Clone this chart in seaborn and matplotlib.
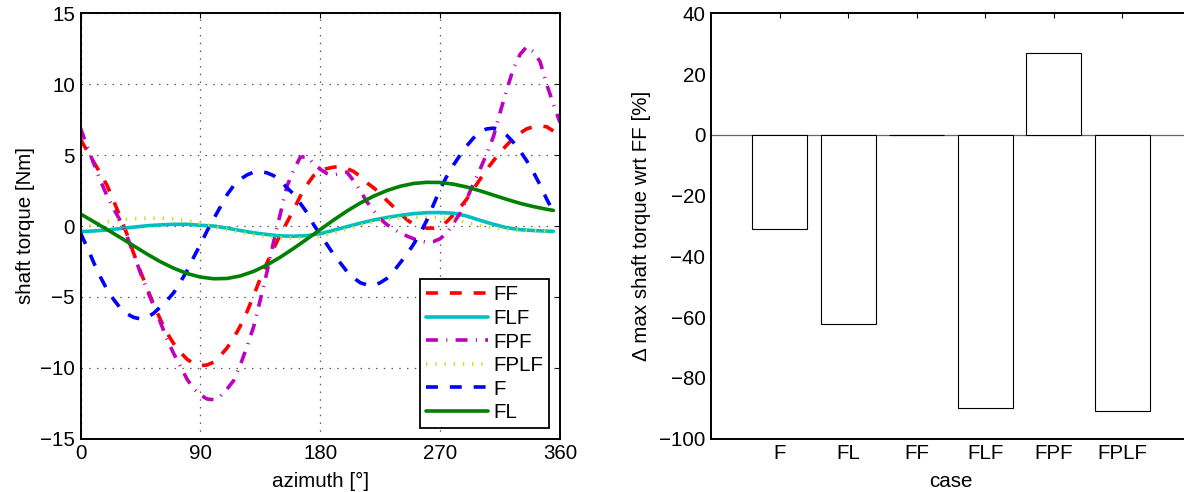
import numpy as np
import pandas as pd
import matplotlib
matplotlib.use("Agg")
import matplotlib.pyplot as plt
import seaborn as sns

# ---------------------------------------------------------------------------
# Shaft torque over one rotor revolution (azimuth in degrees, torque in Nm)
# ---------------------------------------------------------------------------
AZ_FINE = np.arange(0, 356, 5)          # 0 ... 355
AZ_FPF = np.arange(0, 361, 5)           # 0 ... 360
AZ_COARSE = np.array([0, 10, 20, 30, 40, 50, 60, 70, 80, 90, 100, 110, 120,
                      130, 140, 150, 160, 170, 180, 190, 200, 210, 220, 230,
                      240, 250, 260, 270, 280, 290, 300, 310, 320, 330, 340,
                      350, 355])

torque_FF = [6.1, 5.3, 4.5, 3.7, 2.85, 1.75, 0.6, -0.6, -1.95, -3.2, -4.4,
             -5.55, -6.6, -7.55, -8.3, -8.9, -9.4, -9.7, -9.85, -9.8, -9.6,
             -9.15, -8.6, -7.9, -7.05, -6.05, -4.9, -3.7, -2.6, -1.6, -0.6,
             0.25, 1.15, 2.1, 2.9, 3.55, 3.9, 4.05, 4.15, 4.2, 4.05, 3.85,
             3.5, 3.05, 2.7, 2.3, 1.8, 1.35, 0.9, 0.45, 0.12, -0.05, -0.15,
             -0.15, -0.05, 0.3, 0.8, 1.3, 1.9, 2.6, 3.3, 4.0, 4.6, 5.2, 5.7,
             6.2, 6.55, 6.85, 7.0, 7.05, 7.0, 6.7]

torque_FPF = [6.9, 5.6, 4.4, 3.2, 2.1, 1.2, 0.35, -0.75, -2.0, -3.3, -4.5,
              -5.65, -6.8, -8.0, -9.0, -9.9, -10.8, -11.5, -11.9, -12.2,
              -12.25, -12.0, -11.5, -10.9, -9.8, -8.5, -7.1, -5.2, -3.25,
              -1.1, 0.85, 2.8, 3.95, 4.85, 4.9, 4.4, 4.0, 3.7, 3.6, 3.7, 3.8,
              3.2, 2.5, 1.7, 1.1, 0.5, 0.1, -0.2, -0.5, -0.7, -0.9, -1.05,
              -1.15, -1.1, -0.9, -0.5, 0.2, 0.9, 1.9, 3.0, 4.0, 5.1, 6.3, 8.0,
              9.6, 11.1, 12.1, 12.65, 12.3, 11.6, 10.0, 8.6, 7.3]

torque_F = [-0.5, -1.5, -2.6, -3.6, -4.5, -5.2, -5.8, -6.2, -6.45, -6.55,
            -6.45, -6.15, -5.7, -5.25, -4.7, -3.95, -3.15, -2.2, -1.3, -0.35,
            0.5, 1.35, 2.2, 2.85, 3.3, 3.6, 3.8, 3.85, 3.75, 3.55, 3.2, 2.7,
            2.25, 1.6, 0.95, 0.1, -0.6, -1.3, -2.0, -2.6, -3.2, -3.65, -4.0,
            -4.15, -4.2, -4.0, -3.7, -3.2, -2.6, -2.0, -1.3, -0.5, 0.4, 1.5,
            2.6, 3.5, 4.3, 5.0, 5.65, 6.2, 6.6, 6.85, 6.9, 6.8, 6.4, 5.9,
            5.3, 4.6, 3.8, 2.9, 1.9, 1.0]

torque_FLF = [-0.4, -0.35, -0.28, -0.18, -0.08, 0.02, 0.08, 0.12, 0.12, 0.05,
              0.0, -0.15, -0.32, -0.48, -0.6, -0.7, -0.72, -0.68, -0.55,
              -0.3, -0.05, 0.2, 0.42, 0.6, 0.75, 0.87, 0.94, 0.95, 0.9, 0.7,
              0.4, 0.12, -0.12, -0.26, -0.32, -0.36, -0.38]

torque_FPLF = [-0.1, 0.1, 0.3, 0.45, 0.52, 0.55, 0.55, 0.5, 0.38, 0.2,
               -0.05, -0.25, -0.45, -0.62, -0.75, -0.83, -0.87, -0.85, -0.72,
               -0.5, -0.22, 0.05, 0.3, 0.48, 0.58, 0.62, 0.62, 0.58, 0.45,
               0.25, 0.02, -0.15, -0.25, -0.3, -0.33, -0.35, -0.35]

torque_FL = [0.85, 0.3, -0.25, -0.82, -1.4, -1.98, -2.52, -2.98, -3.35, -3.6,
             -3.72, -3.7, -3.52, -3.2, -2.75, -2.2, -1.58, -0.92, -0.25, 0.42,
             1.05, 1.62, 2.1, 2.5, 2.8, 3.0, 3.08, 3.07, 2.95, 2.75, 2.48,
             2.18, 1.88, 1.6, 1.37, 1.18, 1.1]

# ---------------------------------------------------------------------------
# Change of the maximum shaft torque relative to case FF (%)
# ---------------------------------------------------------------------------
bar_cases = ["F", "FL", "FF", "FLF", "FPF", "FPLF"]
bar_delta = [-31.1, -62.3, 0.0, -89.8, 26.9, -90.8]

# line styles (dash patterns in multiples of the line width)
LW = 2.6
series = [
    ("FF", AZ_FINE, torque_FF, (1.0, 0.0, 0.0), (0, (3.3, 3.3))),
    ("FLF", AZ_COARSE, torque_FLF, (0.0, 0.75, 0.75), "-"),
    ("FPF", AZ_FPF, torque_FPF, (0.75, 0.0, 0.75), (0, (3.3, 2.3, 0.3, 2.3))),
    ("FPLF", AZ_COARSE, torque_FPLF, (0.85, 0.85, 0.1), (0, (0.4, 2.15))),
    ("F", AZ_FINE, torque_F, (0.0, 0.0, 1.0), (0, (3.3, 3.3))),
    ("FL", AZ_COARSE, torque_FL, (0.0, 0.5, 0.0), "-"),
]

FS = 14.8

sns.set_theme(style="white", rc={
    "xtick.direction": "in",
    "ytick.direction": "in",
    "xtick.major.size": 3.5,
    "ytick.major.size": 3.5,
    "xtick.major.width": 0.8,
    "ytick.major.width": 0.8,
    "axes.edgecolor": "black",
    "axes.linewidth": 1.4,
    "xtick.color": "black",
    "ytick.color": "black",
    "text.color": "black",
    "axes.labelcolor": "black",
})
plt.rcParams["font.family"] = ["Liberation Sans", "DejaVu Sans"]
plt.rcParams["font.size"] = FS
plt.rcParams["axes.unicode_minus"] = True

W, H = 1184, 492
fig = plt.figure(figsize=(W / 100, H / 100), dpi=100)

ax1 = fig.add_axes([80.5 / W, (H - 438.7) / H, 479.5 / W, 425.4 / H])
ax2 = fig.add_axes([711.0 / W, (H - 438.7) / H, 480.0 / W, 425.4 / H])

# ---- left: torque over azimuth ----
for name, az, vals, col, ls in series:
    frame = pd.DataFrame({"azimuth": az, "torque": vals})
    sns.lineplot(data=frame, x="azimuth", y="torque", ax=ax1, color=col,
                 linewidth=LW, linestyle=ls, label=name, sort=False,
                 estimator=None)

ax1.set_xlim(0, 360)
ax1.set_ylim(-15, 15)
ax1.set_xticks([0, 90, 180, 270, 360])
ax1.set_yticks([-15, -10, -5, 0, 5, 10, 15])
ax1.grid(True, color="0.35", linestyle=(0, (1.2, 5.0)), linewidth=0.9)
ax1.tick_params(axis="both", which="both", labelsize=FS, pad=4,
                top=True, right=True)
ax1.set_xlabel("azimuth [°]", fontsize=FS, labelpad=6)
ax1.set_ylabel("shaft torque [Nm]", fontsize=FS, labelpad=4)
for sp in ax1.spines.values():
    sp.set_visible(True)
    sp.set_color("black")

leg = ax1.legend(loc="lower right", bbox_to_anchor=(0.978, 0.0245),
                 fontsize=FS, handlelength=3.0, handletextpad=0.25,
                 labelspacing=0.22, borderpad=0.3, borderaxespad=0.0,
                 frameon=True, fancybox=False)
leg.get_frame().set_edgecolor("black")
leg.get_frame().set_linewidth(1.3)
leg.get_frame().set_facecolor("white")
leg.get_frame().set_alpha(1.0)

# ---- right: relative change of max torque ----
bars = pd.DataFrame({"case": bar_cases, "delta": bar_delta})
sns.barplot(data=bars, x="case", y="delta", order=bar_cases, ax=ax2,
            color="white", edgecolor="black", linewidth=0.8, width=0.8,
            saturation=1.0, errorbar=None, zorder=3)
ax2.axhline(0, color="0.4", linewidth=0.9, zorder=2)
ax2.set_xlim(-1, 6)
ax2.set_ylim(-100, 40)
ax2.set_yticks([-100, -80, -60, -40, -20, 0, 20, 40])
ax2.tick_params(axis="both", which="both", labelsize=FS, pad=4,
                top=True, right=True)
ax2.set_xlabel("case", fontsize=FS, labelpad=6)
ax2.set_ylabel("\u0394 max shaft torque wrt FF [%]", fontsize=FS, labelpad=6)
for sp in ax2.spines.values():
    sp.set_visible(True)
    sp.set_color("black")

fig.savefig("out.png", dpi=100, facecolor="white")
